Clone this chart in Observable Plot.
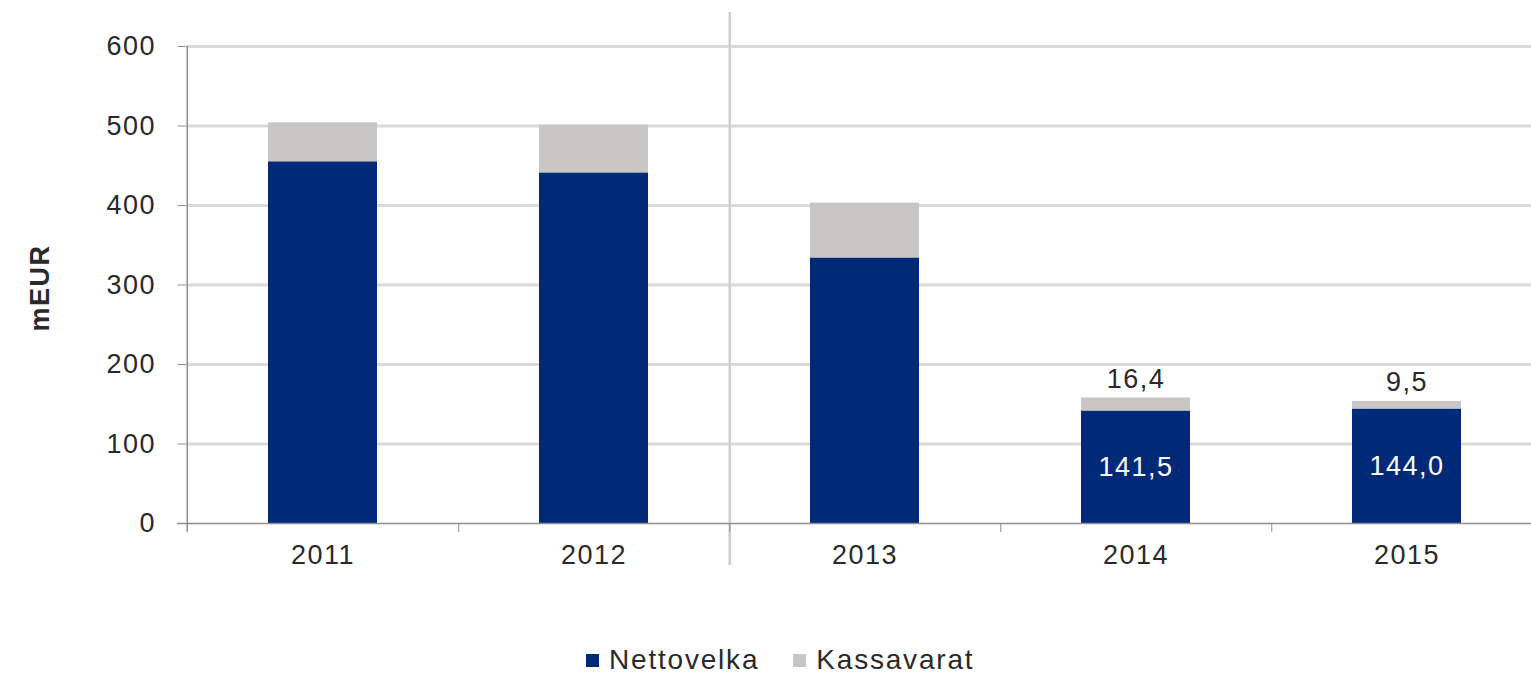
<!DOCTYPE html>
<html>
<head>
<meta charset="utf-8">
<script src="https://cdn.jsdelivr.net/npm/d3@7"></script>
<script src="https://cdn.jsdelivr.net/npm/@observablehq/plot@0.6"></script>
<style>
  html, body { margin: 0; padding: 0; background: #fff; }
  #wrap { width: 1531px; height: 676px; position: relative; overflow: hidden; font-family: "Liberation Sans", Arial, sans-serif; }
  #wrap svg text { letter-spacing: 1.5px; }
  #legend { position: absolute; left: 586px; top: 640px; height: 40px; display: flex; align-items: center; font-size: 28px; color: #2a2a2a; letter-spacing: 1.8px; }
  .sw { width: 13px; height: 13px; display: inline-block; margin-right: 10px; }
  .item { display: flex; align-items: center; margin-right: 34px; }
</style>
</head>
<body>
<div id="wrap"><div id="chart"></div><div id="legend"></div></div>
<script>
const years = ["2011", "2012", "2013", "2014", "2015"];
const nettovelka = [455, 441, 334, 141.5, 144.0];
const kassavarat = [49, 60, 69, 16.4, 9.5];
const labelledYears = ["2014", "2015"];
const series = ["Nettovelka", "Kassavarat"];
const colors = ["#002a78", "#c8c7c5"];
const yTicks = [0, 100, 200, 300, 400, 500, 600];
const yLabel = "mEUR";

const fmt = v => v.toFixed(1).replace(".", ",");

const rows = [];
years.forEach((y, i) => {
  rows.push({year: y, series: "Nettovelka", value: nettovelka[i]});
  rows.push({year: y, series: "Kassavarat", value: kassavarat[i]});
});
const labelRows = years.map((y, i) => ({year: y, netto: nettovelka[i], kassa: kassavarat[i], total: nettovelka[i] + kassavarat[i]}))
  .filter(d => labelledYears.includes(d.year));

const axisColor = "#8f8f8f";
const gridColor = "#dadada";
const half = (1543 - 185.5) / 5 / 2;

const chart = Plot.plot({
  width: 1531,
  height: 620,
  marginLeft: 185.5,
  marginRight: 0,
  marginTop: 46,
  marginBottom: 97,
  style: {fontFamily: "'Liberation Sans', Arial, sans-serif", fontSize: "27px", color: "#2a2a2a", background: "#fff"},
  x: {domain: years, range: [185.5, 1543], padding: 0},
  y: {domain: [0, 600]},
  color: {domain: series, range: colors},
  marks: [
    Plot.ruleY(yTicks.filter(t => t > 0), {stroke: gridColor, strokeWidth: 3}),
    Plot.barY(rows, {x: "year", y: "value", fill: "series", insetLeft: 81, insetRight: 81, order: series}),
    // divider between 2012 and 2013
    Plot.ruleX(["2012"], {x: d => d, dx: half, stroke: "#cfcfcf", strokeWidth: 2.5, insetTop: -34, insetBottom: -42}),
    // y axis line
    Plot.ruleX(["2011"], {x: d => d, dx: -half, stroke: axisColor, strokeWidth: 1.5, insetBottom: -9}),
    // x axis line
    Plot.ruleY([0], {stroke: axisColor, strokeWidth: 1.5, insetLeft: -8}),
    Plot.axisY({ticks: yTicks, tickSize: 8, tickPadding: 22, stroke: axisColor, label: null, fill: "#2a2a2a"}),
    Plot.axisX({ticks: years.slice(0, 4), tickSize: 9, text: null, dx: half, stroke: axisColor, label: null}),
    Plot.axisX({tickSize: 0, tickPadding: 21, label: null, fill: "#2a2a2a"}),
    Plot.text([yLabel], {text: d => d, frameAnchor: "left", textAnchor: "middle", dx: -146, dy: 3, rotate: -90, fontWeight: "bold", fill: "#2a2a2a"}),
    Plot.text(labelRows, {x: "year", y: d => d.netto / 2, text: d => fmt(d.netto), fill: "white"}),
    Plot.text(labelRows, {x: "year", y: "total", text: d => fmt(d.kassa), dy: -19, fill: "#2a2a2a"})
  ]
});
document.getElementById("chart").appendChild(chart);

const legend = document.getElementById("legend");
series.forEach((s, i) => {
  const item = document.createElement("div");
  item.className = "item";
  const sw = document.createElement("span");
  sw.className = "sw";
  sw.style.background = colors[i];
  item.appendChild(sw);
  item.appendChild(document.createTextNode(s));
  legend.appendChild(item);
});
</script>
</body>
</html>
